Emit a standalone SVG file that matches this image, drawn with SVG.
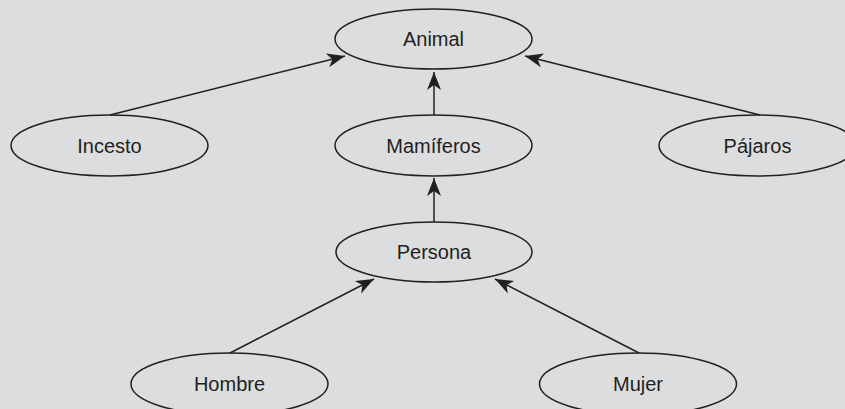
<svg xmlns="http://www.w3.org/2000/svg" width="845" height="409" viewBox="0 0 845 409">
<style>
.n ellipse{fill:none;stroke:#231f20;stroke-width:1.5}
.n text{font-family:"Liberation Sans",Arial,sans-serif;font-size:20px;fill:#231f20;text-anchor:middle}
.e line{stroke:#231f20;stroke-width:1.5;marker-end:url(#ah)}
</style>
<defs>
<marker id="ah" markerUnits="userSpaceOnUse" viewBox="-20 -10 22 20" refX="0" refY="0" markerWidth="22" markerHeight="20" orient="auto">
<path d="M0,0 L-18,-7 L-13,0 L-18,7 Z" fill="#231f20"/>
</marker>
</defs>
<rect width="845" height="409" fill="#dcdddf"/>
<g class="e">
<line x1="110" y1="115" x2="345" y2="56"/>
<line x1="760" y1="115" x2="525" y2="56"/>
<line x1="434" y1="115" x2="434" y2="72"/>
<line x1="434" y1="222" x2="434" y2="178"/>
<line x1="230" y1="353" x2="374" y2="279"/>
<line x1="639" y1="353" x2="495" y2="279"/>
</g>
<g id="animal" class="n"><ellipse cx="433.5" cy="39" rx="98.5" ry="30"/><text x="433.5" y="46">Animal</text></g>
<g id="incesto" class="n"><ellipse cx="109.5" cy="145.5" rx="98.5" ry="30.5"/><text x="109.5" y="152.5">Incesto</text></g>
<g id="mamiferos" class="n"><ellipse cx="433.5" cy="145.5" rx="98.5" ry="30.5"/><text x="433.5" y="152.5">Mamíferos</text></g>
<g id="pajaros" class="n"><ellipse cx="757.5" cy="145.5" rx="98.5" ry="30.5"/><text x="757.5" y="152.5">Pájaros</text></g>
<g id="persona" class="n"><ellipse cx="434" cy="252" rx="98" ry="30"/><text x="434" y="259">Persona</text></g>
<g id="hombre" class="n"><ellipse cx="229.5" cy="384" rx="98.5" ry="31"/><text x="229.5" y="391">Hombre</text></g>
<g id="mujer" class="n"><ellipse cx="638" cy="384" rx="98.5" ry="31"/><text x="638" y="391">Mujer</text></g>
</svg>
